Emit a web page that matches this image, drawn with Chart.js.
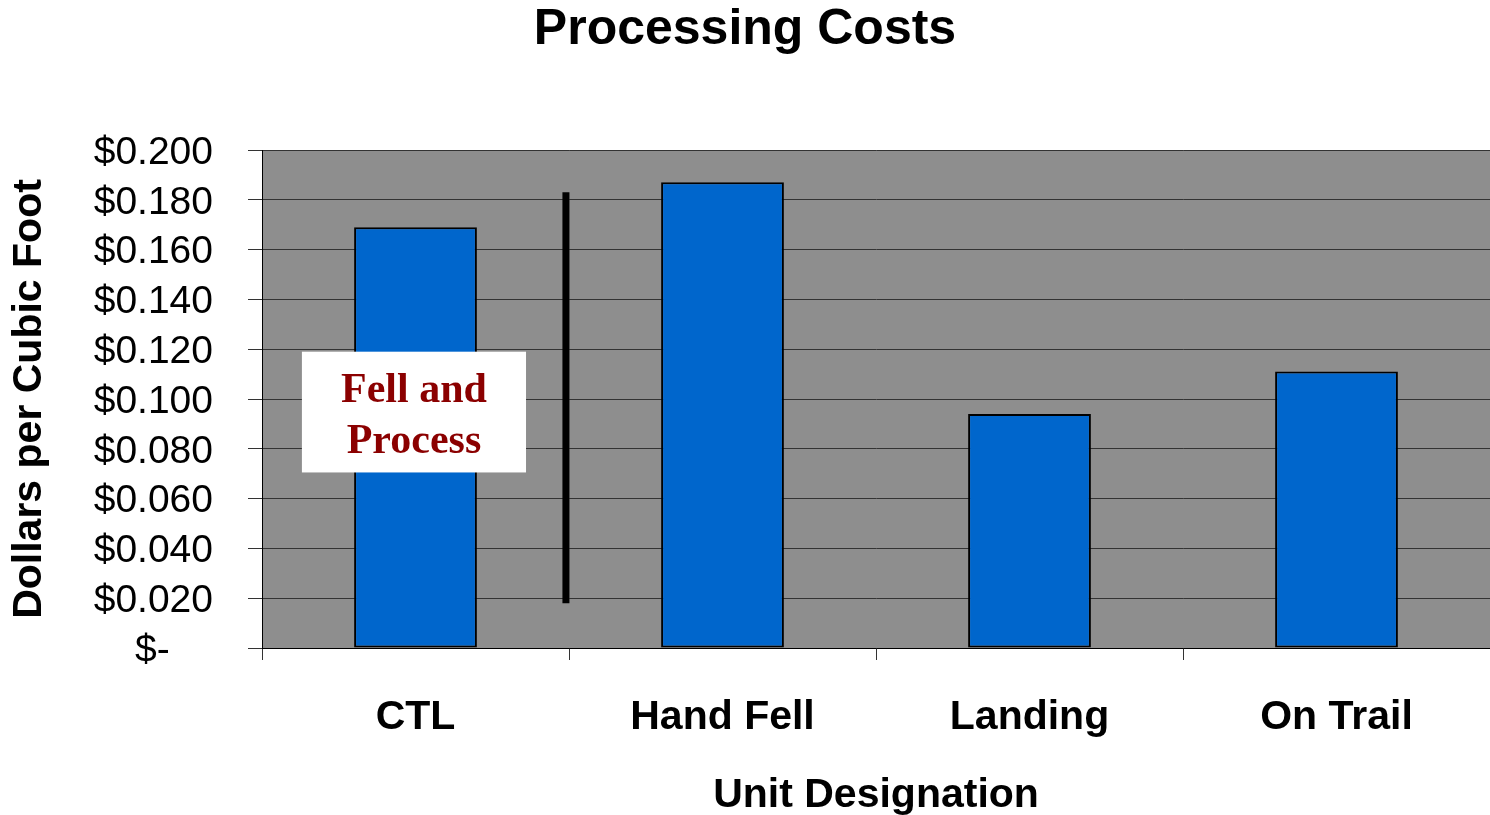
<!DOCTYPE html>
<html>
<head>
<meta charset="utf-8">
<title>Processing Costs</title>
<script src="https://cdn.jsdelivr.net/npm/chart.js@4/dist/chart.umd.min.js"></script>
<style>
  html, body { margin: 0; padding: 0; background: #fff; }
  #wrap { width: 1490px; height: 815px; position: relative; }
</style>
</head>
<body>
<div id="wrap"><canvas id="chart"></canvas></div>
<script>
// Processing cost per unit designation.
const units = ["CTL", "Hand Fell", "Landing", "On Trail"];
const costPerCuFt = [0.169, 0.187, 0.094, 0.111];
const yTicks = [0, 0.02, 0.04, 0.06, 0.08, 0.1, 0.12, 0.14, 0.16, 0.18, 0.2];

// divider between the "Fell and Process" group and the rest (data units)
const dividerAt = 0.49;
const dividerRange = [0.018, 0.183];
// label box over the CTL bar (category offsets / data units)
const noteLines = ["Fell and", "Process"];
const noteX = [-0.37, 0.36];
const noteY = [0.0705, 0.119];

const SANS = "'Liberation Sans', Arial, sans-serif";
const SERIF = "'Liberation Serif', 'Times New Roman', serif";

const plotBg = {
  id: "plotBg",
  beforeDraw(chart) {
    const { ctx, chartArea: a } = chart;
    ctx.save();
    ctx.fillStyle = "#8e8e8e";
    ctx.fillRect(a.left, a.top, a.right - a.left, a.bottom - a.top);
    ctx.restore();
  },
};

const notes = {
  id: "notes",
  afterDatasetsDraw(chart) {
    const { ctx, scales: { x, y } } = chart;
    ctx.save();
    // vertical divider
    const dx = x.getPixelForValue(dividerAt);
    ctx.strokeStyle = "#000";
    ctx.lineWidth = 7;
    ctx.beginPath();
    ctx.moveTo(dx, y.getPixelForValue(dividerRange[1]));
    ctx.lineTo(dx, y.getPixelForValue(dividerRange[0]));
    ctx.stroke();
    // white label box
    const x0 = x.getPixelForValue(noteX[0]), x1 = x.getPixelForValue(noteX[1]);
    const y0 = y.getPixelForValue(noteY[1]), y1 = y.getPixelForValue(noteY[0]);
    ctx.fillStyle = "#fff";
    ctx.fillRect(x0, y0, x1 - x0, y1 - y0);
    ctx.fillStyle = "#8b0000";
    ctx.font = `bold 42px ${SERIF}`;
    ctx.textAlign = "center";
    ctx.textBaseline = "middle";
    const cx = (x0 + x1) / 2, cy = (y0 + y1) / 2 + 5;
    noteLines.forEach((t, i) => ctx.fillText(t, cx, cy + (i - (noteLines.length - 1) / 2) * 51));
    ctx.restore();
  },
};

new Chart(document.getElementById("chart"), {
  type: "bar",
  data: {
    labels: units,
    datasets: [{
      data: costPerCuFt,
      backgroundColor: "#0066cc",
      borderColor: "#000",
      borderWidth: 2,
      borderSkipped: false,
      categoryPercentage: 1,
      barPercentage: 0.4,
    }],
  },
  options: {
    responsive: true,
    maintainAspectRatio: false,
    animation: false,
    layout: { padding: 0 },
    plugins: {
      legend: { display: false },
      tooltip: { enabled: false },
      title: {
        display: true,
        text: "Processing Costs",
        color: "#000",
        font: { family: SANS, size: 50, weight: "bold" },
        padding: { top: 0, bottom: 90 },
      },
    },
    scales: {
      x: {
        grid: { drawOnChartArea: false, drawTicks: true, tickLength: 12, color: "#333", offset: true },
        border: { color: "#000", width: 1 },
        ticks: { color: "#000", font: { family: SANS, size: 41, weight: "bold" }, padding: 33, maxRotation: 0 },
        title: {
          display: true, text: "Unit Designation", color: "#000",
          font: { family: SANS, size: 41, weight: "bold" }, padding: { top: 0, bottom: -5 },
        },
        afterFit(s) { s.height = 167; },
      },
      y: {
        min: 0, max: 0.2,
        afterBuildTicks(s) { s.ticks = yTicks.map((v) => ({ value: v })); },
        grid: { color: "#333", lineWidth: 1, tickLength: 14 },
        border: { color: "#000", width: 1 },
        ticks: {
          color: "#000",
          font: { family: SANS, size: 39 },
          padding: 35,
          labelOffset: 3,
          callback: (v) => (v === 0 ? "$-    " : "$" + Number(v).toFixed(3)),
        },
        title: {
          display: true, text: "Dollars per Cubic Foot", color: "#000",
          font: { family: SANS, size: 41, weight: "bold" }, padding: { top: 5, bottom: 0 },
        },
        afterFit(s) { s.width = 262; },
      },
    },
  },
  plugins: [plotBg, notes],
});
</script>
</body>
</html>
